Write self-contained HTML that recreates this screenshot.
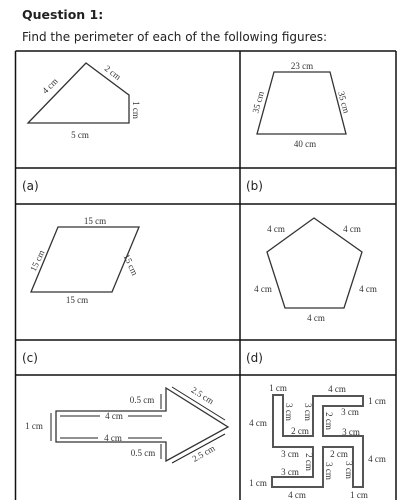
<!DOCTYPE html>
<html><head><meta charset="utf-8"><style>
html,body{margin:0;padding:0;background:#fff;width:408px;height:500px;overflow:hidden}
svg{display:block}
.h{font-family:"DejaVu Sans","Liberation Sans",sans-serif;fill:#222}
.s{font-family:"Liberation Serif",serif;font-size:9px;fill:#333}
.f{fill:none;stroke:#333;stroke-width:1.3}
</style></head><body>
<svg width="408" height="500" viewBox="0 0 408 500">
<text class="h" x="22" y="19" font-size="12.5" font-weight="bold">Question 1:</text>
<text class="h" x="22" y="41" font-size="12">Find the perimeter of each of the following figures:</text>
<g stroke="#111" stroke-width="1.5" fill="none">
<line x1="15.5" y1="51" x2="396" y2="51"/>
<line x1="15.5" y1="168" x2="396" y2="168"/>
<line x1="15.5" y1="204" x2="396" y2="204"/>
<line x1="15.5" y1="340" x2="396" y2="340"/>
<line x1="15.5" y1="375" x2="396" y2="375"/>
<line x1="15.5" y1="51" x2="15.5" y2="500"/>
<line x1="240" y1="51" x2="240" y2="500"/>
<line x1="396" y1="51" x2="396" y2="500"/>
</g>
<text class="h" x="22" y="190" font-size="12">(a)</text>
<text class="h" x="246" y="190" font-size="12">(b)</text>
<text class="h" x="22" y="362" font-size="12">(c)</text>
<text class="h" x="246" y="362" font-size="12">(d)</text>

<g>
<polygon class="f" points="28,123 86,63 129,95 129,123"/>
<text class="s" transform="translate(52,88) rotate(-45)" text-anchor="middle">4 cm</text>
<text class="s" transform="translate(111,75) rotate(37)" text-anchor="middle">2 cm</text>
<text class="s" transform="translate(133,110) rotate(90)" text-anchor="middle">1 cm</text>
<text class="s" x="80" y="138" text-anchor="middle">5 cm</text>
</g>
<g>
<polygon class="f" points="274,72 330,72 346,134 257,134"/>
<text class="s" x="302" y="69" text-anchor="middle">23 cm</text>
<text class="s" x="305" y="147" text-anchor="middle">40 cm</text>
<text class="s" transform="translate(261,103) rotate(-75)" text-anchor="middle">35 cm</text>
<text class="s" transform="translate(341,103) rotate(75)" text-anchor="middle">35 cm</text>
</g>
<g>
<polygon class="f" points="58,227 139,227 112,292 31,292"/>
<text class="s" x="95" y="224" text-anchor="middle">15 cm</text>
<text class="s" x="77" y="303" text-anchor="middle">15 cm</text>
<text class="s" transform="translate(40,262) rotate(-65)" text-anchor="middle">15 cm</text>
<text class="s" transform="translate(128,266) rotate(65)" text-anchor="middle">15 cm</text>
</g>
<g>
<polygon class="f" points="314,218 362,252 344,308 285,308 267,252"/>
<text class="s" x="276" y="232" text-anchor="middle">4 cm</text>
<text class="s" x="352" y="232" text-anchor="middle">4 cm</text>
<text class="s" x="263" y="292" text-anchor="middle">4 cm</text>
<text class="s" x="368" y="292" text-anchor="middle">4 cm</text>
<text class="s" x="316" y="321" text-anchor="middle">4 cm</text>
</g>
<g>
<polygon class="f" points="56,411 166,411 166,388 228,427 166,461 166,442 56,442"/>
<g stroke="#222" stroke-width="1" fill="#222">
<line x1="60" y1="416" x2="100" y2="416"/><line x1="128" y1="416" x2="162" y2="416"/>
<line x1="60" y1="438" x2="98" y2="438"/><line x1="128" y1="438" x2="162" y2="438"/>
<line x1="51" y1="413" x2="51" y2="441"/>
<line x1="161" y1="394" x2="161" y2="409"/><line x1="161" y1="444" x2="161" y2="459"/>
<line x1="172" y1="387" x2="225" y2="420"/><line x1="172" y1="463" x2="225" y2="434"/>
</g>
<text class="s" x="114" y="419" text-anchor="middle">4 cm</text>
<text class="s" x="113" y="441" text-anchor="middle">4 cm</text>
<text class="s" x="34" y="429" text-anchor="middle">1 cm</text>
<text class="s" x="142" y="403" text-anchor="middle">0.5 cm</text>
<text class="s" x="143" y="456" text-anchor="middle">0.5 cm</text>
<text class="s" transform="translate(201,398) rotate(32)" text-anchor="middle">2.5 cm</text>
<text class="s" transform="translate(205,456) rotate(-30)" text-anchor="middle">2.5 cm</text>
</g>
<g>
<polygon points="273,395 283,395 283,436 313,436 313,396 363,396 363,406 323,406 323,436 363,436 363,487 353,487 353,447 323,447 323,487 272,487 272,477 313,477 313,447 273,447" fill="none" stroke="#555" stroke-width="2"/>
<text class="s" x="278" y="391" text-anchor="middle">1 cm</text>
<text class="s" x="337" y="392" text-anchor="middle">4 cm</text>
<text class="s" x="377" y="404" text-anchor="middle">1 cm</text>
<text class="s" x="350" y="415" text-anchor="middle">3 cm</text>
<text class="s" x="351" y="435" text-anchor="middle">3 cm</text>
<text class="s" x="258" y="426" text-anchor="middle">4 cm</text>
<text class="s" x="300" y="434" text-anchor="middle">2 cm</text>
<text class="s" x="339" y="457" text-anchor="middle">2 cm</text>
<text class="s" x="290" y="457" text-anchor="middle">3 cm</text>
<text class="s" x="290" y="475" text-anchor="middle">3 cm</text>
<text class="s" x="377" y="462" text-anchor="middle">4 cm</text>
<text class="s" x="258" y="486" text-anchor="middle">1 cm</text>
<text class="s" x="297" y="498" text-anchor="middle">4 cm</text>
<text class="s" x="359" y="498" text-anchor="middle">1 cm</text>
<text class="s" transform="translate(286,412) rotate(90)" text-anchor="middle">3 cm</text>
<text class="s" transform="translate(305,412) rotate(90)" text-anchor="middle">3 cm</text>
<text class="s" transform="translate(326,421) rotate(90)" text-anchor="middle">2 cm</text>
<text class="s" transform="translate(306,462) rotate(90)" text-anchor="middle">2 cm</text>
<text class="s" transform="translate(326,471) rotate(90)" text-anchor="middle">3 cm</text>
<text class="s" transform="translate(346,470) rotate(90)" text-anchor="middle">3 cm</text>
</g>
</svg>
</body></html>
